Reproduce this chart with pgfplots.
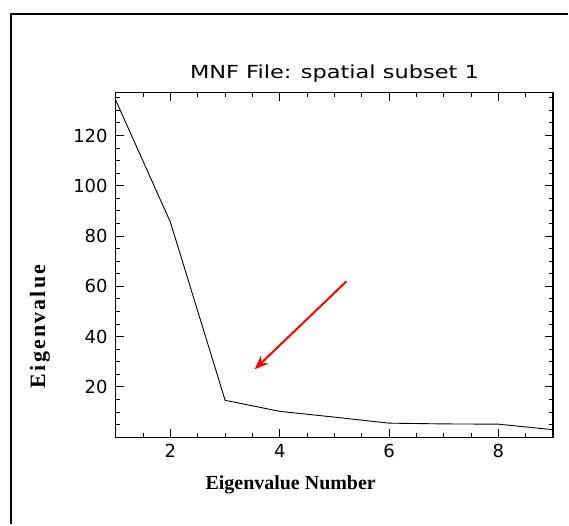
\documentclass[border=0pt]{standalone}
\usepackage{fontspec}
\setmainfont{DejaVu Sans}
\newfontfamily\titlefont[FakeStretch=1.25]{DejaVu Sans}
\newfontfamily\labfont{Liberation Serif}
\newfontfamily\ylabfont[LetterSpace=10]{Liberation Serif}
\usepackage{pgfplots}
\pgfplotsset{compat=1.18}
\usetikzlibrary{arrows.meta}
\begin{document}
\begin{tikzpicture}
\begin{axis}[
    scale only axis,
    width=438pt, height=345pt,
    xmin=1, xmax=9, ymin=0, ymax=137,
    xtick={2,4,6,8},
    minor xtick={1.5,2,...,8.5},
    ytick={20,40,...,120},
    minor ytick={5,10,...,135},
    major tick length=8pt, minor tick length=4pt,
    tick style={black, line width=1pt},
    axis line style={black, line width=1.2pt},
    /pgf/number format/assume math mode=true,
    tick label style={font=\fontsize{18}{20}\selectfont},
    xticklabel style={inner sep=0pt, yshift=-7pt},
    yticklabel style={inner sep=0pt, xshift=-8pt},
    title={MNF File: spatial subset 1},
    title style={font=\titlefont\fontsize{18}{20}\selectfont, anchor=base, yshift=8pt},
    xlabel={Eigenvalue Number},
    xlabel style={font=\labfont\bfseries\fontsize{20}{22}\selectfont,
        at={(axis description cs:0.40,0)}, anchor=base, yshift=-52pt},
    ylabel={Eigenvalue},
    ylabel style={font=\ylabfont\bfseries\fontsize{22}{24}\selectfont,
        at={(axis description cs:-0.1735,0.322)}, anchor=center},
]
\addplot[black, line width=0.9pt] coordinates {
    (1,134) (2,85.5) (3,14.7) (4,10.3) (5,8.0) (6,5.6) (7,5.3) (8,5.2) (9,3.0)
};
\draw[red, line width=2pt, -{Stealth[length=14pt,width=11pt]}]
    (axis cs:5.22,62) -- (axis cs:3.54,27);
\end{axis}
\draw[line width=2pt] ([shift={(-105pt,-87pt)}]current axis.south west)
    |- ([shift={(15pt,79pt)}]current axis.north east);
\useasboundingbox ([shift={(-116pt,-87pt)}]current axis.south west)
    rectangle ([shift={(15pt,93pt)}]current axis.north east);
\end{tikzpicture}
\end{document}
